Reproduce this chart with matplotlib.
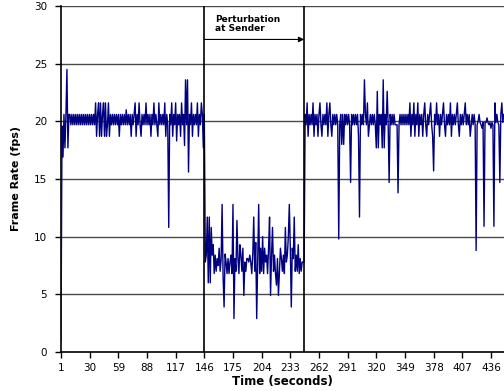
import matplotlib
matplotlib.use("Agg")
import matplotlib.pyplot as plt
import numpy as np

plt.rcParams['font.family'] = ['DejaVu Sans']

# Frame rate samples (fps), one per second
seg_before = [
    1.0, 19.6, 16.9, 20.6, 17.7, 20.6, 24.5, 17.7, 20.6, 20.6,
    19.7, 20.6, 19.7, 20.6, 19.7, 20.6, 19.7, 20.6, 19.7, 20.6,
    19.7, 20.6, 19.7, 20.6, 19.7, 20.6, 19.7, 20.6, 19.7, 20.6,
    19.7, 20.6, 19.7, 20.6, 19.7,
    21.6, 18.7, 20.6, 21.6, 18.7, 21.6, 18.7, 20.6, 21.6, 18.7,
    21.6, 18.7, 19.7, 21.6, 18.7, 20.6, 19.7, 20.6,
    19.7, 20.6, 19.7, 20.6, 19.7, 20.6, 18.7, 20.6, 19.7, 20.6,
    19.7, 20.6, 19.7, 21.0, 19.7, 20.6, 19.7, 20.6, 18.7, 20.6,
    19.7, 20.6,
    21.6, 18.7, 20.6, 19.7, 21.6, 19.7, 18.7, 20.6, 19.7, 20.6,
    19.7, 21.6, 19.7, 20.6, 19.7, 20.6, 18.7, 20.6, 19.7, 21.6,
    19.7, 20.6, 19.7, 18.7, 21.6, 19.7, 20.6, 19.7, 20.6, 19.7,
    21.6, 18.7, 20.6, 19.7,
    10.8,
    20.6, 19.7, 21.6, 18.7, 20.6, 19.7, 21.6, 18.3, 20.6, 19.7,
    20.6, 18.7, 21.6, 19.7, 20.6,
    17.9, 23.6, 19.7, 23.6, 15.6,
    20.6, 19.7, 21.6, 18.7, 20.6, 19.7, 20.6, 19.7, 21.6, 18.7,
    20.6, 19.7, 21.6, 20.6, 17.7,
    20.6,
]

seg_perturb = [
    7.8, 8.4, 11.7, 6.0, 11.7, 6.0, 10.8, 8.4, 9.3, 6.8,
    8.4, 7.0, 8.1, 7.5, 9.0, 7.0, 8.0, 12.8, 6.5, 3.9,
    8.5, 7.8, 6.8, 8.1, 6.8, 7.8, 8.4, 6.8, 12.8, 2.9,
    8.1, 7.0, 11.4, 8.1, 6.8, 9.3, 8.4, 7.0, 9.0, 4.9,
    7.8, 7.0, 8.1, 8.1, 7.8, 8.4, 7.8, 6.8, 8.4, 11.7,
    7.0, 9.5, 2.9, 8.0, 12.8, 6.8, 9.0, 7.0, 10.0, 6.8,
    9.0, 7.8, 8.4, 6.8, 9.0, 11.7, 4.9, 8.4, 10.8, 7.0,
    8.4, 6.8, 5.8, 8.1, 4.9, 7.0, 9.0, 8.1, 7.0, 8.4,
    6.8, 10.8, 7.8, 8.4, 10.0, 12.8, 9.0, 3.9, 9.0, 8.1,
    11.7, 7.0, 8.4, 7.0, 9.3, 6.8, 8.1, 7.0, 7.8, 7.8,
    7.8,
]

seg_after = [
    20.6, 19.7, 21.6, 18.7, 20.6, 19.7, 20.6, 19.7, 21.6, 18.7,
    20.6, 19.7, 20.6, 18.7, 20.6, 21.6, 19.7, 18.7, 20.6, 19.7,
    20.6, 19.7, 21.6, 18.7, 20.6, 21.6, 19.7, 18.7, 20.6, 19.7,
    20.6, 19.7, 20.6, 19.7, 9.8, 19.7, 20.6, 18.0, 20.6, 18.0,
    20.6, 19.7, 20.6, 19.7, 20.6, 19.7, 14.7, 20.6, 19.7, 20.6,
    19.7, 20.6, 19.7, 20.6, 18.7, 11.7, 20.6, 19.7, 20.6, 19.7,
    23.6, 20.6, 19.7, 21.6, 18.7, 19.7, 20.6, 19.7, 20.6, 19.7,
    20.6, 19.7, 17.7, 22.6, 17.7, 20.6, 19.7, 20.6, 17.7, 23.6,
    17.7, 20.6, 19.7, 22.6, 19.7, 14.7, 20.6, 19.7, 20.6, 19.7,
    20.6, 19.7, 19.7, 19.7, 13.8, 19.7, 20.6, 19.7, 20.6, 19.7,
    20.6, 19.7, 20.6, 19.7, 20.6, 19.7, 21.6, 18.7, 20.6, 19.7,
    21.6, 18.7, 20.6, 19.7, 21.6, 18.7, 20.6, 19.7, 20.6, 18.7,
    20.6, 21.6, 19.7, 18.7, 20.6, 19.7, 20.6, 21.6, 19.7, 18.7,
    15.7, 20.6, 19.7, 21.6, 19.7, 20.6, 18.7, 20.6, 19.7, 20.6,
    21.6, 19.7, 18.7, 20.6, 19.7, 20.6, 19.7, 21.6, 18.7, 20.6,
    19.7, 20.6, 19.7, 20.6, 21.6, 19.7, 18.7, 20.6, 19.7, 20.6,
    19.7, 20.6, 21.6, 19.7, 20.6, 19.7, 20.6, 18.7, 19.7, 20.6,
    19.7, 20.6, 19.7, 8.8, 19.7, 20.0, 20.6, 19.9, 19.7, 19.4,
    19.9, 10.9, 19.9, 19.9, 20.3, 19.9, 19.7, 19.9, 19.4, 19.9,
    19.7, 10.9, 21.6, 19.9, 20.6, 19.9, 19.7, 14.7, 20.6, 21.6,
    19.9, 20.6,
]

frame_rate = seg_before + seg_perturb + seg_after
time_s = list(range(1, len(frame_rate) + 1))

tick_values = [1, 30, 59, 88, 117, 146, 175, 204, 233, 262, 291, 320, 349, 378, 407, 436]
y_ticks = [0, 5, 10, 15, 20, 25, 30]
perturb_start = 146
perturb_end = 247
annotation = "Perturbation\nat Sender"

fig = plt.figure(figsize=(5.04, 3.91), dpi=100)
ax = fig.add_axes([61/504, 1-352/391, 1-61/504, (352-6)/391])

for yv in y_ticks[1:]:
    ax.axhline(yv, color='#4a4a4a', lw=1.0, zorder=1)

ax.plot(time_s, frame_rate, color='#000080', lw=1.0, zorder=3)

ax.axvline(perturb_start, color='black', lw=1.2, zorder=4)
ax.axvline(perturb_end, color='black', lw=1.2, zorder=4)
ax.annotate('', xy=(perturb_end, 27.1), xytext=(perturb_start, 27.1),
            arrowprops=dict(arrowstyle='-|>', color='black', lw=0.8,
                            mutation_scale=8, shrinkA=0, shrinkB=0), zorder=5)
ax.text(perturb_start + 11, 28.45, annotation, fontsize=6.5, fontweight='bold',
        ha='left', va='center', linespacing=1.05)

ax.set_xlim(1, 449.2)
ax.set_ylim(0, 30)
ax.set_xticks(tick_values)
ax.set_xticklabels([str(v) for v in tick_values])
ax.set_yticks(y_ticks)
ax.tick_params(axis='both', labelsize=7.5, direction='out', length=4, width=1, color='black')
ax.tick_params(axis='y', pad=6)
ax.tick_params(axis='x', pad=4)
ax.spines['top'].set_visible(False)
ax.spines['right'].set_visible(False)
ax.spines['left'].set_linewidth(1.2)
ax.spines['bottom'].set_linewidth(1.2)

ax.set_xlabel('Time (seconds)', fontsize=8.5, fontweight='bold', labelpad=1)
ax.set_ylabel('Frame Rate (fps)', fontsize=8, fontweight='bold', labelpad=9)

fig.savefig('out.png', dpi=100)
